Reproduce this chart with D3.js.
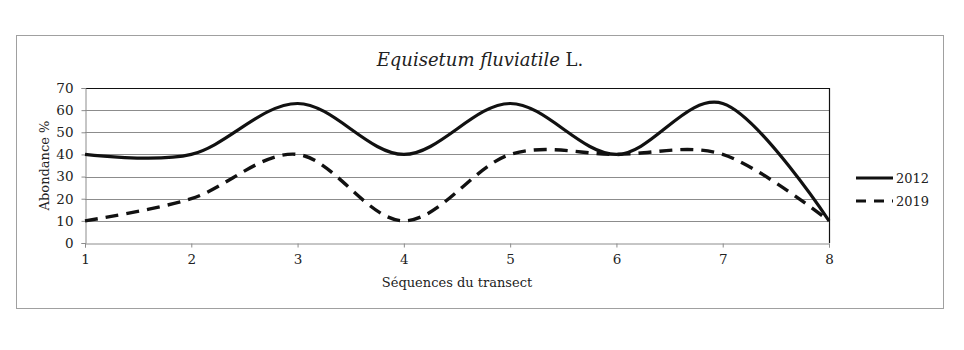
<!DOCTYPE html>
<html><head><meta charset="utf-8">
<script src="https://cdn.jsdelivr.net/npm/d3@7"></script>
<style>body{margin:0;background:#fff}svg{display:block}text{font-family:"DejaVu Serif",Georgia,serif;fill:#222}</style>
</head><body><svg id="c" width="964" height="350"></svg>
<script>
const sequences = [1, 2, 3, 4, 5, 6, 7, 8];
const values2012 = [40, 40, 63, 40, 63, 40, 63, 10];
const values2019 = [10, 20, 40, 10, 40, 40, 40, 10];
const yTicks = [0, 10, 20, 30, 40, 50, 60, 70];
const seriesNames = ["2012", "2019"];

const svg = d3.select("#c");
svg.append("rect").attr("x", 16.5).attr("y", 35.5).attr("width", 927).attr("height", 273)
  .attr("fill", "#fff").attr("stroke", "#a0a0a0");

const x = d3.scaleLinear().domain([1, 8]).range([85, 829]);
const y = d3.scaleLinear().domain([0, 70]).range([243, 88]);

// gridlines
svg.append("g").selectAll("line").data(yTicks.filter(t => t > 0 && t < 70)).join("line")
  .attr("x1", x(1)).attr("x2", x(8)).attr("y1", d => Math.round(y(d)) + 0.5).attr("y2", d => Math.round(y(d)) + 0.5)
  .attr("stroke", "#8c8c8c").attr("stroke-width", 1);
// top and right border
svg.append("line").attr("x1", x(1)).attr("x2", x(8)).attr("y1", Math.round(y(70)) + 0.5).attr("y2", Math.round(y(70)) + 0.5)
  .attr("stroke", "#111").attr("stroke-width", 1.2);
svg.append("line").attr("x1", x(8) + 0.5).attr("x2", x(8) + 0.5).attr("y1", y(70)).attr("y2", y(0))
  .attr("stroke", "#111").attr("stroke-width", 1.2);

// axes
const yAxis = svg.append("g").attr("transform", `translate(${x(1) + 0.5},0)`)
  .call(d3.axisLeft(y).tickValues(yTicks).tickSize(4).tickPadding(8).tickFormat(d3.format("d")));
const xAxis = svg.append("g").attr("transform", `translate(0,${Math.round(y(0)) + 0.5})`)
  .call(d3.axisBottom(x).tickValues(sequences).tickSize(4).tickPadding(7).tickFormat(d3.format("d")));
[yAxis, xAxis].forEach(a => {
  a.select(".domain").attr("stroke", "#8c8c8c");
  a.selectAll(".tick line").attr("stroke", "#8c8c8c");
  a.selectAll(".tick text").attr("font-family", '"DejaVu Serif",Georgia,serif').attr("font-size", 13.5).attr("fill", "#222");
});

// lines
const line = d3.line().x((d, i) => x(sequences[i])).y(d => y(d)).curve(d3.curveCatmullRom.alpha(0));
svg.append("path").datum(values2012).attr("d", line).attr("fill", "none")
  .attr("stroke", "#111").attr("stroke-width", 3.2);
svg.append("path").datum(values2019).attr("d", line).attr("fill", "none")
  .attr("stroke", "#111").attr("stroke-width", 3.4).attr("stroke-dasharray", "13,8");

// title
const t = svg.append("text").attr("x", 480).attr("y", 66).attr("text-anchor", "middle").attr("font-size", 18);
t.append("tspan").attr("font-style", "italic").text("Equisetum fluviatile");
t.append("tspan").text(" L.");

// axis titles
svg.append("text").attr("x", x(4.5)).attr("y", 287).attr("text-anchor", "middle").attr("font-size", 13)
  .text("Séquences du transect");
svg.append("text").attr("transform", `translate(49,${y(35)}) rotate(-90)`).attr("text-anchor", "middle")
  .attr("font-size", 13).text("Abondance %");

// legend
const leg = svg.append("g");
seriesNames.forEach((n, i) => {
  const ly = 178 + i * 23;
  leg.append("line").attr("x1", 856).attr("x2", 893).attr("y1", ly).attr("y2", ly)
    .attr("stroke", "#111").attr("stroke-width", 3.2).attr("stroke-dasharray", i ? "10,8" : null);
  leg.append("text").attr("x", 896).attr("y", ly + 5).attr("font-size", 13).text(n);
});
</script></body></html>
